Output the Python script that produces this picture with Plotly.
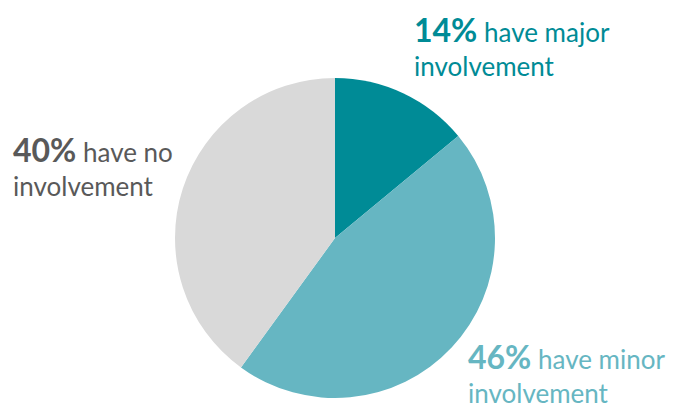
import plotly.graph_objects as go

categories = ["have major involvement", "have minor involvement", "have no involvement"]
values = [14, 46, 40]
colors = ["#008B96", "#66B6C2", "#D9D9D9"]
text_colors = ["#008B96", "#66B6C2", "#595959"]

W, H = 680, 409
fig = go.Figure(go.Pie(
    labels=categories, values=values, sort=False, direction="clockwise", rotation=0,
    marker=dict(colors=colors, line=dict(width=0)),
    textinfo="none", hoverinfo="label+percent", showlegend=False,
    domain=dict(x=[175 / W, 495 / W], y=[11 / H, 331 / H]),
))

label_pos = [(412, 8, "have major<br>involvement"), (466, 335, "have minor<br>involvement"), (11, 128, "have no<br>involvement")]
for (x, y, txt), v, c in zip(label_pos, values, text_colors):
    first, second = txt.split("<br>")
    fig.add_annotation(
        x=x / W, y=1 - y / H, xref="paper", yref="paper", xanchor="left", yanchor="top",
        align="left", showarrow=False,
        text=f"<span style='font-size:32px'><b>{v}%</b></span> {first}<br>{second}",
        font=dict(family="Lato", size=26, color=c),
    )

fig.update_layout(width=W, height=H, margin=dict(l=0, r=0, t=0, b=0),
                  paper_bgcolor="white", plot_bgcolor="white")
fig.write_html("out.html")
